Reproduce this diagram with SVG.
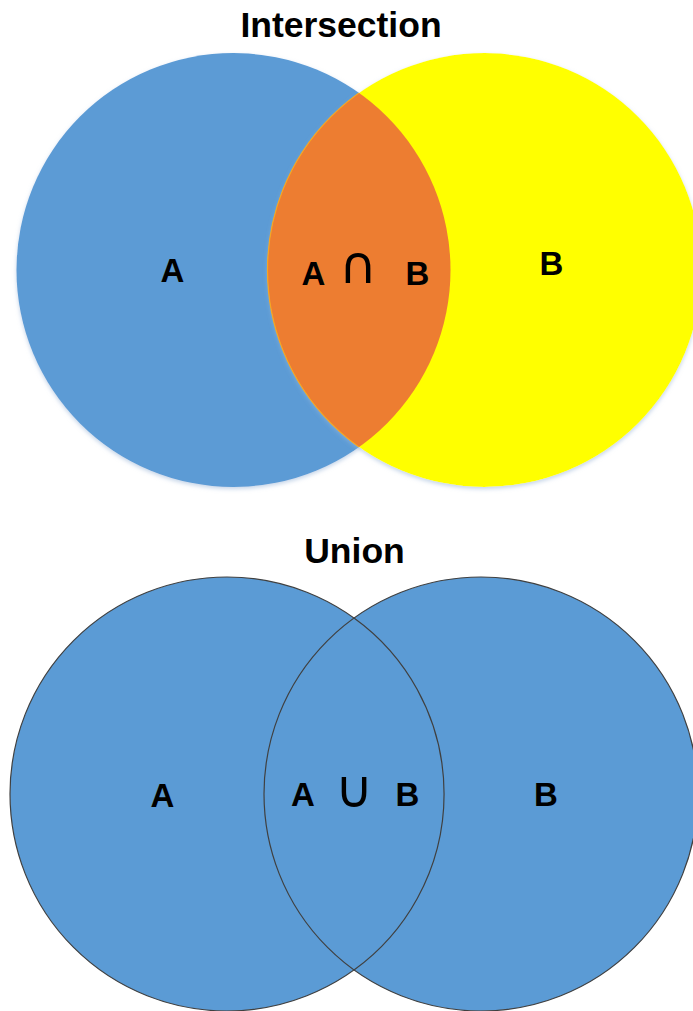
<svg xmlns="http://www.w3.org/2000/svg" width="693" height="1011" viewBox="0 0 693 1011">
<style>
.t{font-family:"Liberation Sans",Arial,sans-serif;font-weight:bold;fill:#000;text-anchor:middle}
.title{font-size:35.5px}
.lbl{font-size:33px}
.op{font-family:"DejaVu Sans","Liberation Sans",sans-serif;font-size:52px;font-weight:normal;fill:#000;text-anchor:middle}
.u{fill:#5B9BD5;stroke:#404040;stroke-width:1.2}
</style>
<defs>
<filter id="sh" x="-10%" y="-10%" width="120%" height="120%">
<feDropShadow dx="0" dy="2" stdDeviation="2" flood-color="#9DB7D9" flood-opacity="0.6"/>
</filter>
<clipPath id="clipA"><circle cx="233.5" cy="270" r="217"/></clipPath>
</defs>
<text class="t title" x="341" y="37">Intersection</text>
<g id="setA-top"><circle cx="233.5" cy="270" r="217" fill="#5B9BD5" filter="url(#sh)"/></g>
<g id="setB-top"><circle cx="484.5" cy="270" r="217" fill="#FFFF00" filter="url(#sh)"/></g>
<g id="intersection"><circle cx="484.5" cy="270" r="217" fill="#ED7D31" stroke="#F5A623" stroke-width="1.2" clip-path="url(#clipA)"/></g>
<text class="t lbl" x="172.5" y="282">A</text>
<text class="t lbl" x="313.5" y="285">A</text>
<text class="op" x="358" y="283">∩</text>
<text class="t lbl" x="417.5" y="285">B</text>
<text class="t lbl" x="551.5" y="275">B</text>
<text class="t title" x="354.5" y="563">Union</text>
<g id="setA-bottom"><circle class="u" cx="227" cy="794" r="217"/></g>
<g id="setB-bottom"><circle class="u" cx="481" cy="794" r="217"/></g>
<g id="overlap"><path d="M354,618 A217,217 0 0 1 354,970" fill="none" stroke="#404040" stroke-width="1.2"/></g>
<text class="t lbl" x="162.5" y="807">A</text>
<text class="t lbl" x="303" y="806">A</text>
<text class="op" x="354" y="807">∪</text>
<text class="t lbl" x="407.5" y="806">B</text>
<text class="t lbl" x="546" y="806">B</text>
</svg>
